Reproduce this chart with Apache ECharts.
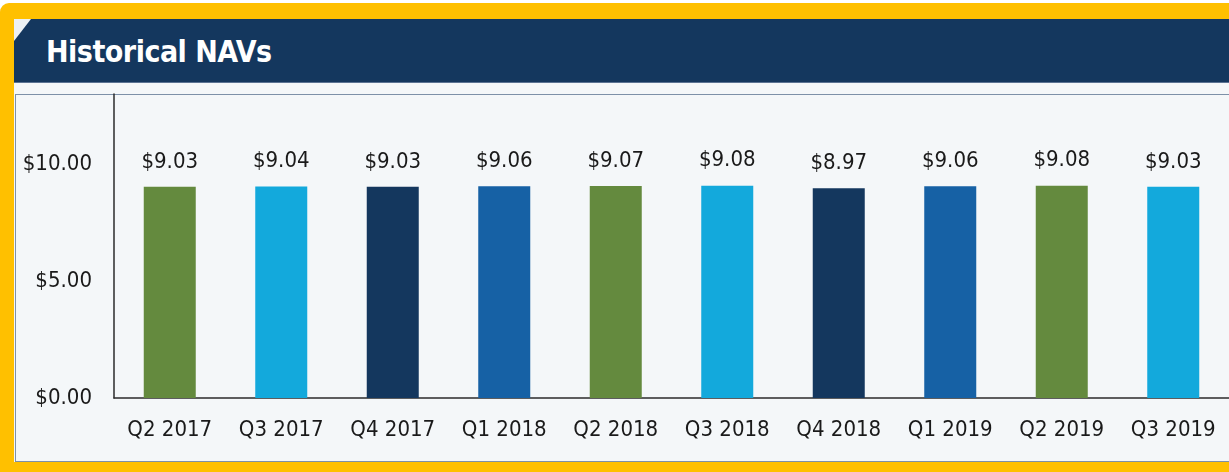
<!DOCTYPE html>
<html>
<head>
<meta charset="utf-8">
<script src="https://cdn.jsdelivr.net/npm/echarts@6/dist/echarts.min.js"></script>
<style>
  html, body { margin: 0; padding: 0; background: #fff; overflow: hidden; width: 1229px; height: 472px; }
  .frame { position: absolute; left: 0; top: 3px; width: 1260px; height: 469px; background: #FFC000; border-radius: 9px 0 0 0; }
  .panel { position: absolute; left: 14px; top: 19px; width: 1246px; height: 443px; background: #F4F7F9; overflow: hidden; }
  .head { position: absolute; left: 0; top: 0; width: 1246px; height: 63px; background: #14375E; border-bottom: 1px solid #5B7393; }
  .corner { position: absolute; left: 0; top: 0; width: 0; height: 0; border-top: 22px solid #EDF1F4; border-right: 17px solid transparent; }
  .head p { position: absolute; left: 32px; top: 0; margin: 0; line-height: 66px; color: #fff; font-family: "DejaVu Sans Condensed", "Liberation Sans Narrow", sans-serif; font-weight: bold; font-size: 30px; letter-spacing: -0.5px; }
  .box { position: absolute; left: 1px; top: 75px; width: 1244px; height: 366px; border: 1px solid #7D90A8; border-right: none; }
  #bar { position: absolute; left: 0; top: 0; width: 1229px; height: 472px; }
</style>
</head>
<body>
<div class="frame"></div>
<div class="panel">
  <div class="head"><div class="corner"></div><p>Historical NAVs</p></div>
  <div class="box"></div>
</div>
<div id="bar"></div>
<script>
var quarters = ['Q2 2017', 'Q3 2017', 'Q4 2017', 'Q1 2018', 'Q2 2018', 'Q3 2018', 'Q4 2018', 'Q1 2019', 'Q2 2019', 'Q3 2019'];
var navs = [9.03, 9.04, 9.03, 9.06, 9.07, 9.08, 8.97, 9.06, 9.08, 9.03];
var barColors = ['#648A3E', '#13A9DC', '#14375E', '#1661A5', '#648A3E', '#13A9DC', '#14375E', '#1661A5', '#648A3E', '#13A9DC'];
var yTicks = [0, 5, 10];

var font = '"DejaVu Sans Condensed", "Liberation Sans Narrow", sans-serif';
var myChart = echarts.init(document.getElementById('bar'));
var option = {
    animation: false,
    grid: { left: 114, right: -6, top: 94, bottom: 74 },
    xAxis: {
        type: 'category',
        data: quarters,
        axisLine: { lineStyle: { color: '#2b2b2b', width: 1.5 } },
        axisTick: { show: false },
        axisLabel: { interval: 0, color: '#1a1a1a', fontFamily: font, fontSize: 22, margin: 21 }
    },
    yAxis: {
        type: 'value',
        min: 0,
        max: 13,
        interval: 5,
        axisLine: { show: true, lineStyle: { color: '#2b2b2b', width: 1.5 } },
        axisTick: { show: false },
        splitLine: { show: false },
        axisLabel: {
            color: '#1a1a1a', fontFamily: font, fontSize: 22, margin: 22,
            formatter: function (v) {
                return yTicks.indexOf(v) >= 0 ? '$' + v.toFixed(2) : '';
            }
        }
    },
    series: [{
        type: 'bar',
        barWidth: 52,
        data: navs.map(function (v, i) {
            return { value: v, itemStyle: { color: barColors[i] } };
        }),
        label: {
            show: true,
            position: 'top',
            distance: 14,
            color: '#1a1a1a',
            fontFamily: font,
            fontSize: 22,
            formatter: function (p) { return '$' + p.value.toFixed(2); }
        }
    }]
};
myChart.setOption(option);
</script>
</body>
</html>
